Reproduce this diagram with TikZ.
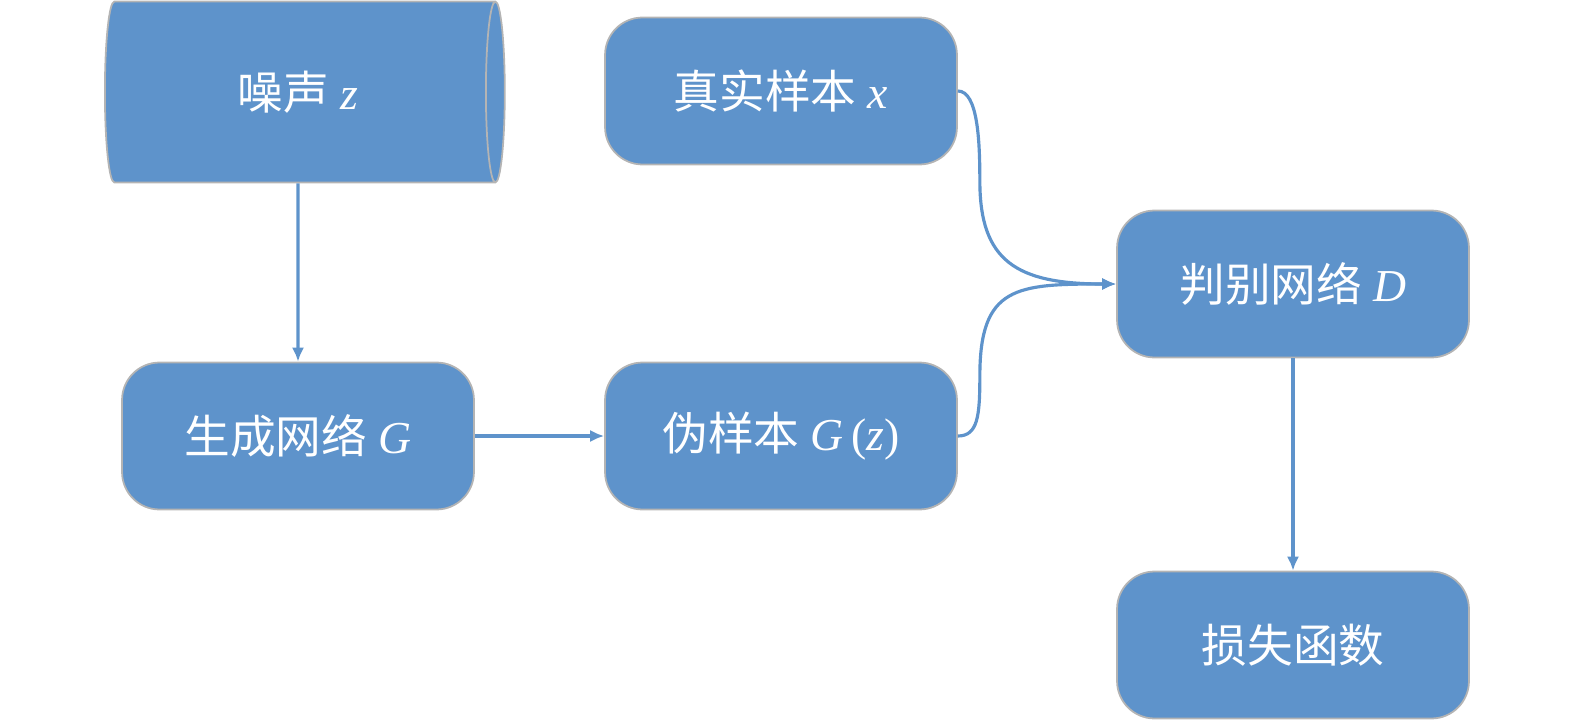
\documentclass[tikz,border=0pt]{standalone}
\usepackage{fontspec}
\setmainfont{Liberation Serif}
\newfontfamily\cjk{Noto Sans CJK SC}
\usetikzlibrary{positioning,shapes.geometric,arrows.meta,calc}
\definecolor{boxblue}{HTML}{5E93CB}
\definecolor{boxline}{HTML}{B4B4B4}
\tikzstyle{block}=[rectangle, draw=boxline, line width=1pt, rounded corners=0.75cm, fill=boxblue,
text centered, text=white, minimum width=7.04cm, minimum height=2.94cm, font=\fontsize{26}{30}\selectfont]
\tikzstyle{flow}=[draw=boxblue, line width=1.8pt, -{Latex[length=8pt,width=7pt]}]

\begin{document}
\begin{tikzpicture}[x=0.02cm,y=-0.02cm]
    \useasboundingbox (0,0) rectangle (1575,723);
    \node (noise)[cylinder, draw=boxline, line width=1pt, fill=boxblue, text=white,
        shape aspect=0.35, minimum width=3.62cm, minimum height=8cm,
        font=\fontsize{26}{30}\selectfont] at (298,92) {{\cjk 噪声} \textit{z}};
    \node (real)[block] at (781,91) {{\cjk 真实样本} \textit{x}};
    \node (gen)[block] at (298,436) {{\cjk 生成网络} \textit{G}};
    \node (fake)[block] at (781,436) {{\cjk 伪样本} \textit{G}\,(\textit{z})};
    \node (disc)[block] at (1293,284) {{\cjk 判别网络} \textit{D}};
    \node (loss)[block] at (1293,645) {\cjk 损失函数};

    \draw [flow] (noise.south) -- (gen.north);
    \draw [flow] (gen.east) -- (fake.west);
    \draw [flow] (disc.south) -- (loss.north);
    \draw [flow] (real.east) .. controls +(20,0) and +(0,-40) .. ($(real.east)+(22,90)$)
        .. controls +(0,80) and +(-100,0) .. (disc.west);
    \draw [flow] (fake.east) .. controls +(20,0) and +(0,40) .. ($(fake.east)+(22,-60)$)
        .. controls +(0,-90) and +(-100,0) .. (disc.west);
\end{tikzpicture}
\end{document}
